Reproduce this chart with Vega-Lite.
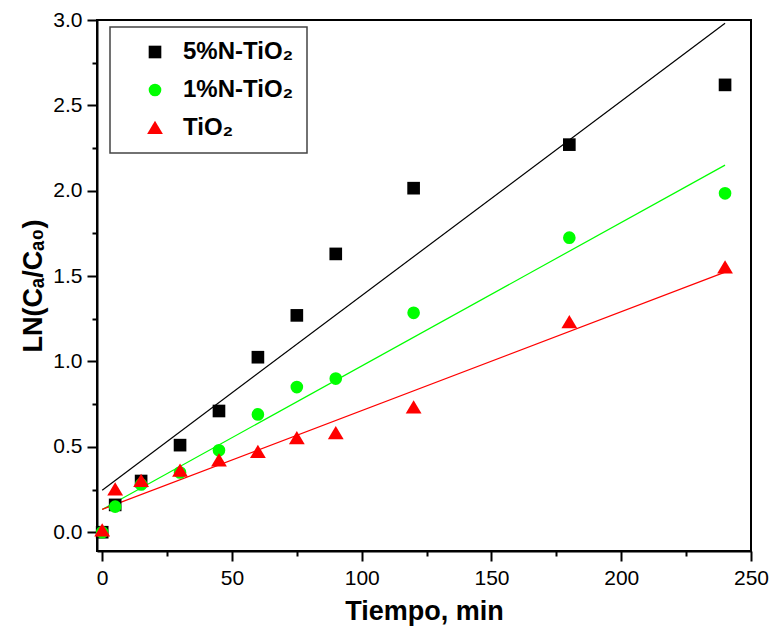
{
  "$schema": "https://vega.github.io/schema/vega-lite/v6.json",
  "autosize": {"type": "none"},
  "width": 654,
  "height": 531,
  "padding": {"left": 97, "top": 20, "right": 18, "bottom": 77},
  "background": "white",
  "config": {
    "view": {"stroke": "black", "strokeWidth": 2},
    "font": "Liberation Sans",
    "axis": {
      "domainColor": "black", "domainWidth": 2,
      "tickColor": "black", "tickWidth": 2,
      "labelColor": "black", "labelFontSize": 21, "labelFont": "Liberation Sans",
      "titleColor": "black", "titleFontSize": 27, "titleFontWeight": "bold", "titleFont": "Liberation Sans",
      "grid": false
    },
    "legend": {
      "orient": "none",
      "legendX": 13,
      "legendY": 7,
      "padding": 13,
      "symbolOffset": 20,
      "symbolSize": 160,
      "labelFontSize": 24,
      "labelFontWeight": "bold",
      "labelColor": "black",
      "labelFont": "Liberation Sans",
      "labelOffset": 16,
      "rowPadding": 14,
      "strokeColor": "#444444",
      "strokeWidth": 1.5,
      "fillColor": "white"
    }
  },
  "data": {
    "values": [
      {"serie": "5%N-TiO₂", "t": 0, "v": 0.0},
      {"serie": "5%N-TiO₂", "t": 5, "v": 0.16},
      {"serie": "5%N-TiO₂", "t": 15, "v": 0.30},
      {"serie": "5%N-TiO₂", "t": 30, "v": 0.51},
      {"serie": "5%N-TiO₂", "t": 45, "v": 0.71},
      {"serie": "5%N-TiO₂", "t": 60, "v": 1.025},
      {"serie": "5%N-TiO₂", "t": 75, "v": 1.27},
      {"serie": "5%N-TiO₂", "t": 90, "v": 1.63},
      {"serie": "5%N-TiO₂", "t": 120, "v": 2.015},
      {"serie": "5%N-TiO₂", "t": 180, "v": 2.27},
      {"serie": "5%N-TiO₂", "t": 240, "v": 2.62},
      {"serie": "1%N-TiO₂", "t": 0, "v": 0.0},
      {"serie": "1%N-TiO₂", "t": 5, "v": 0.15},
      {"serie": "1%N-TiO₂", "t": 15, "v": 0.28},
      {"serie": "1%N-TiO₂", "t": 30, "v": 0.35},
      {"serie": "1%N-TiO₂", "t": 45, "v": 0.48},
      {"serie": "1%N-TiO₂", "t": 60, "v": 0.69},
      {"serie": "1%N-TiO₂", "t": 75, "v": 0.85},
      {"serie": "1%N-TiO₂", "t": 90, "v": 0.90},
      {"serie": "1%N-TiO₂", "t": 120, "v": 1.285},
      {"serie": "1%N-TiO₂", "t": 180, "v": 1.725},
      {"serie": "1%N-TiO₂", "t": 240, "v": 1.985},
      {"serie": "TiO₂", "t": 0, "v": 0.01},
      {"serie": "TiO₂", "t": 5, "v": 0.25},
      {"serie": "TiO₂", "t": 15, "v": 0.30},
      {"serie": "TiO₂", "t": 30, "v": 0.36},
      {"serie": "TiO₂", "t": 45, "v": 0.42},
      {"serie": "TiO₂", "t": 60, "v": 0.47},
      {"serie": "TiO₂", "t": 75, "v": 0.55},
      {"serie": "TiO₂", "t": 90, "v": 0.58},
      {"serie": "TiO₂", "t": 120, "v": 0.73},
      {"serie": "TiO₂", "t": 180, "v": 1.23},
      {"serie": "TiO₂", "t": 240, "v": 1.55}
    ]
  },
  "encoding": {
    "x": {
      "field": "t", "type": "quantitative",
      "scale": {"domain": [-2, 250], "nice": false, "zero": false},
      "axis": {
        "title": "Tiempo, min",
        "values": [0, 25, 50, 75, 100, 125, 150, 175, 200, 225, 250],
        "labelExpr": "datum.value % 50 === 0 ? datum.label : ''",
        "tickSize": {"condition": {"test": "datum.value % 50 !== 0", "value": 5}, "value": 10},
        "labelPadding": 6,
        "titlePadding": 10,
        "labelFlush": false
      }
    },
    "y": {
      "field": "v", "type": "quantitative",
      "scale": {"domain": [-0.11, 3.0], "nice": false, "zero": false},
      "axis": {
        "title": "LN(Cₐ/Cₐ₀)",
        "values": [0, 0.25, 0.5, 0.75, 1, 1.25, 1.5, 1.75, 2, 2.25, 2.5, 2.75, 3],
        "format": ".1f",
        "labelExpr": "abs(datum.value * 2 - round(datum.value * 2)) < 0.01 ? datum.label : ''",
        "tickSize": {"condition": {"test": "abs(datum.value * 2 - round(datum.value * 2)) > 0.01", "value": 5}, "value": 10},
        "labelPadding": 5,
        "titlePadding": 5,
        "labelFlush": false
      }
    }
  },
  "layer": [
    {
      "transform": [
        {"filter": "datum.serie === '5%N-TiO₂'"},
        {"regression": "v", "on": "t", "extent": [0, 240]}
      ],
      "mark": {"type": "line", "strokeWidth": 1.2, "color": "#000000"},
      "encoding": {}
    },
    {
      "transform": [
        {"filter": "datum.serie === '1%N-TiO₂'"},
        {"regression": "v", "on": "t", "extent": [0, 240]}
      ],
      "mark": {"type": "line", "strokeWidth": 1.2, "color": "#00ff00"},
      "encoding": {}
    },
    {
      "transform": [
        {"filter": "datum.serie === 'TiO₂'"},
        {"regression": "v", "on": "t", "extent": [0, 240]}
      ],
      "mark": {"type": "line", "strokeWidth": 1.2, "color": "#ff0000"},
      "encoding": {}
    },
    {
      "mark": {"type": "point", "filled": true, "opacity": 1, "size": 160},
      "encoding": {
        "shape": {
          "field": "serie", "type": "nominal",
          "scale": {"domain": ["5%N-TiO₂", "1%N-TiO₂", "TiO₂"], "range": ["square", "circle", "M0,-1.15L1.25,0.95L-1.25,0.95Z"]},
          "legend": {"title": null}
        },
        "color": {
          "field": "serie", "type": "nominal",
          "scale": {"domain": ["5%N-TiO₂", "1%N-TiO₂", "TiO₂"], "range": ["#000000", "#00ff00", "#ff0000"]},
          "legend": {"title": null}
        }
      }
    }
  ]
}
